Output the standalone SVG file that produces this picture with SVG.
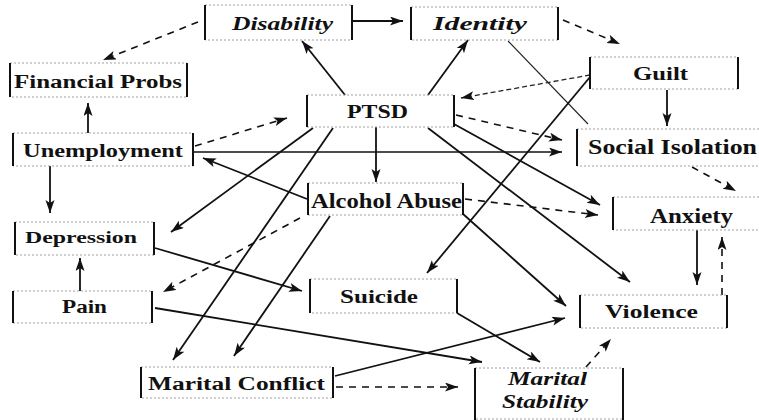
<svg xmlns="http://www.w3.org/2000/svg" width="759" height="420" viewBox="0 0 759 420">
<style>
.box{fill:none;stroke:#a0a0a0;stroke-width:1;stroke-dasharray:2 2}
.br{stroke:#111;stroke-width:2}
.t{font-family:"Liberation Serif","Times New Roman",serif;font-weight:bold;font-size:18px;fill:#111}
.i{font-style:italic}
.s{fill:none;stroke:#111;stroke-width:1.8;marker-end:url(#ah)}
.d{fill:none;stroke:#111;stroke-width:1.6;stroke-dasharray:7 6;marker-end:url(#ah)}
.ds{fill:none;stroke:#222;stroke-width:1.3;stroke-dasharray:5 3;marker-end:url(#ah)}
.th{fill:none;stroke:#222;stroke-width:1.1}
</style>
<defs>
<marker id="ah" markerUnits="userSpaceOnUse" markerWidth="14" markerHeight="10" refX="13" refY="4.5" orient="auto">
<path d="M0,0 L13,4.5 L0,9 L3,4.5 z" fill="#111"/>
</marker>
</defs>
<rect width="759" height="420" fill="#fff"/>
<g id="connectors">
<path class="d" d="M198,22 L103,60"/>
<path class="s" d="M353,21 L403,21"/>
<path class="d" d="M563,20 L620,44"/>
<path class="s" d="M345,95 L302,41"/>
<path class="s" d="M428,95 L468,40"/>
<path class="ds" d="M590,75 L461,98"/>
<path class="th" d="M508,41 L588,124"/>
<path class="s" d="M590,77 L427,273"/>
<path class="d" d="M456,115 L562,140"/>
<path class="s" style="stroke-width:1.4" d="M193,152 L562,152"/>
<path class="s" d="M454,124 L600,205"/>
<path class="s" d="M428,128 L630,282"/>
<path class="s" d="M463,214 L566,306"/>
<path class="s" d="M313,128 L171,232"/>
<path class="s" d="M333,128 L173,360"/>
<path class="s" d="M330,216 L234,356"/>
<path class="d" d="M195,146 L287,118"/>
<path class="s" d="M307,199 L203,158"/>
<path class="s" d="M376,127 L376,182"/>
<path class="d" d="M465,199 L598,215"/>
<path class="d" d="M300,218 L163,292"/>
<path class="s" d="M155,248 L302,291"/>
<path class="s" d="M155,308 L482,362"/>
<path class="s" d="M457,313 L540,362"/>
<path class="d" d="M586,367 L611,339"/>
<path class="s" d="M335,376 L565,318"/>
<path class="d" d="M336,387 L458,387"/>
<path class="s" d="M697,230 L697,285"/>
<path class="d" d="M722,295 L722,237"/>
<path class="s" d="M667,90 L667,126"/>
<path class="d" d="M692,167 L736,191"/>
<path class="s" d="M80,291 L80,258"/>
<path class="s" d="M88,133 L88,103"/>
<path class="s" d="M50,166 L50,213"/>
</g>
<g id="n-disability"><rect class="box" x="205" y="5" width="147" height="35"/><line class="br" x1="205" y1="5" x2="205" y2="40"/><line class="br" x1="352" y1="5" x2="352" y2="40"/><text class="t i" x="232" y="30" textLength="101" lengthAdjust="spacingAndGlyphs">Disability</text></g>
<g id="n-identity"><rect class="box" x="411" y="7" width="147" height="33"/><line class="br" x1="411" y1="7" x2="411" y2="40"/><line class="br" x1="558" y1="7" x2="558" y2="40"/><text class="t i" x="433" y="30" textLength="94" lengthAdjust="spacingAndGlyphs">Identity</text></g>
<g id="n-financial"><rect class="box" x="10" y="63" width="177" height="34"/><line class="br" x1="10" y1="63" x2="10" y2="97"/><line class="br" x1="187" y1="63" x2="187" y2="97"/><text class="t" x="14" y="88" textLength="168" lengthAdjust="spacingAndGlyphs">Financial Probs</text></g>
<g id="n-ptsd"><rect class="box" x="307" y="95" width="147" height="32"/><line class="br" x1="307" y1="95" x2="307" y2="127"/><line class="br" x1="454" y1="95" x2="454" y2="127"/><text class="t" x="347" y="118" textLength="61" lengthAdjust="spacingAndGlyphs">PTSD</text></g>
<g id="n-guilt"><rect class="box" x="590" y="57" width="148" height="32"/><line class="br" x1="590" y1="57" x2="590" y2="89"/><line class="br" x1="738" y1="57" x2="738" y2="89"/><text class="t" x="633" y="80" textLength="55" lengthAdjust="spacingAndGlyphs">Guilt</text></g>
<g id="n-unemployment"><rect class="box" x="13" y="133" width="180" height="33"/><line class="br" x1="13" y1="133" x2="13" y2="166"/><line class="br" x1="193" y1="133" x2="193" y2="166"/><text class="t" x="23" y="157" style="font-size:18.5px" textLength="160" lengthAdjust="spacingAndGlyphs">Unemployment</text></g>
<g id="n-social"><rect class="box" x="577" y="129" width="190" height="37"/><line class="br" x1="577" y1="129" x2="577" y2="166"/><text class="t" x="588" y="154" style="font-size:20px" textLength="169" lengthAdjust="spacingAndGlyphs">Social Isolation</text></g>
<g id="n-alcohol"><rect class="box" x="308" y="183" width="155" height="32"/><line class="br" x1="308" y1="183" x2="308" y2="215"/><line class="br" x1="463" y1="183" x2="463" y2="215"/><text class="t" x="311" y="208" style="font-size:21px" textLength="151" lengthAdjust="spacingAndGlyphs">Alcohol Abuse</text></g>
<g id="n-anxiety"><rect class="box" x="613" y="197" width="154" height="33"/><line class="br" x1="613" y1="197" x2="613" y2="230"/><text class="t" x="650" y="223" style="font-size:20px" textLength="83" lengthAdjust="spacingAndGlyphs">Anxiety</text></g>
<g id="n-depression"><rect class="box" x="15" y="222" width="139" height="33"/><line class="br" x1="15" y1="222" x2="15" y2="255"/><line class="br" x1="154" y1="222" x2="154" y2="255"/><text class="t" x="25" y="243" style="font-size:17.5px" textLength="112" lengthAdjust="spacingAndGlyphs">Depression</text></g>
<g id="n-pain"><rect class="box" x="13" y="291" width="139" height="32"/><line class="br" x1="13" y1="291" x2="13" y2="323"/><line class="br" x1="152" y1="291" x2="152" y2="323"/><text class="t" x="62" y="313" textLength="45" lengthAdjust="spacingAndGlyphs">Pain</text></g>
<g id="n-suicide"><rect class="box" x="310" y="279" width="147" height="34"/><line class="br" x1="310" y1="279" x2="310" y2="313"/><line class="br" x1="457" y1="279" x2="457" y2="313"/><text class="t" x="340" y="303" style="font-size:19px" textLength="78" lengthAdjust="spacingAndGlyphs">Suicide</text></g>
<g id="n-violence"><rect class="box" x="580" y="295" width="147" height="33"/><line class="br" x1="580" y1="295" x2="580" y2="328"/><line class="br" x1="727" y1="295" x2="727" y2="328"/><text class="t" x="605" y="318" style="font-size:19px" textLength="93" lengthAdjust="spacingAndGlyphs">Violence</text></g>
<g id="n-conflict"><rect class="box" x="141" y="367" width="192" height="31"/><line class="br" x1="141" y1="367" x2="141" y2="398"/><line class="br" x1="333" y1="367" x2="333" y2="398"/><text class="t" x="148" y="390" style="font-size:18.5px" textLength="177" lengthAdjust="spacingAndGlyphs">Marital Conflict</text></g>
<g id="n-stability"><rect class="box" x="475" y="368" width="148" height="51"/><line class="br" x1="475" y1="368" x2="475" y2="420"/><line class="br" x1="623" y1="368" x2="623" y2="420"/><text class="t i" x="508" y="385" textLength="79" lengthAdjust="spacingAndGlyphs">Marital</text><text class="t i" x="502" y="408" textLength="86" lengthAdjust="spacingAndGlyphs">Stability</text></g>
</svg>
